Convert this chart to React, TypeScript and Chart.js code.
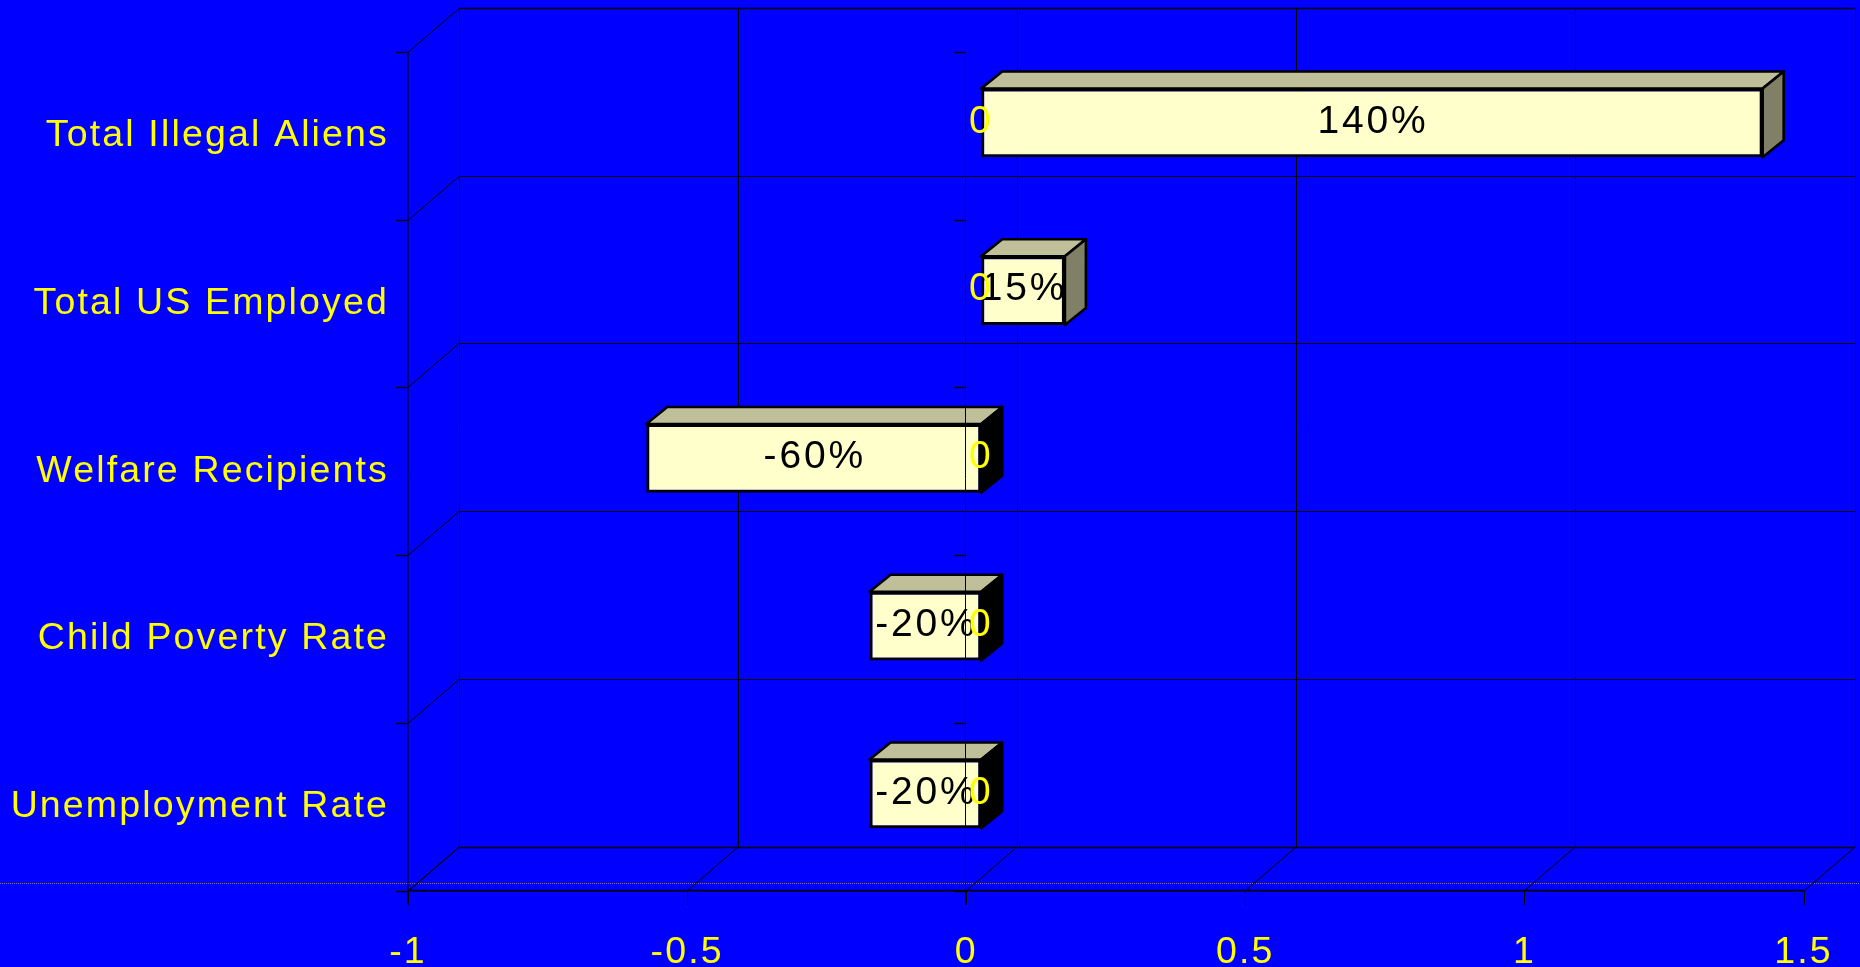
import React, { useEffect, useRef } from "react";
import { Chart, registerables } from "chart.js";

Chart.register(...registerables);

const categories = ["Total Illegal Aliens", "Total US Employed", "Welfare Recipients", "Child Poverty Rate", "Unemployment Rate"];
const changeValues = [1.4, 0.15, -0.6, -0.2, -0.2];
const changeLabels = ["140%", "15%", "-60%", "-20%", "-20%"];
const zeroValues = [0, 0, 0, 0, 0];
const xTicks = [-1, -0.5, 0, 0.5, 1, 1.5];

const FONT = "'Liberation Sans', Arial, sans-serif";
const FONT_SIZE = 37.5;
const LABEL_SIZE = 39;
const SPACING = "2.15px";
const LABEL_SPACING = "2.8px";
const WALL_DX = 51;
const WALL_DY = 44;
const BAR_DX = 15;
const BAR_DY = -13;
const BOX_DX = 21;
const BOX_DY = 17;

function line(ctx: CanvasRenderingContext2D, x1: number, y1: number, x2: number, y2: number, w = 1) {
  ctx.lineWidth = w;
  ctx.beginPath();
  ctx.moveTo(x1, y1);
  ctx.lineTo(x2, y2);
  ctx.stroke();
}

const frame3d = {
  id: "frame3d",
  beforeDraw(chart: any) {
    const ctx = chart.ctx;
    ctx.letterSpacing = SPACING;
    ctx.save();
    ctx.fillStyle = "#0000ff";
    ctx.fillRect(0, 0, chart.width, chart.height);
    ctx.strokeStyle = "#808080";
    ctx.setLineDash([1, 1]);
    line(ctx, 0, 883.5, chart.width, 883.5, 1);
    ctx.restore();
  },
  beforeDatasetsDraw(chart: any) {
    const { ctx, chartArea: a, scales } = chart;
    const x = scales.x;
    const y = scales.y;
    ctx.save();
    ctx.strokeStyle = "#000000";
    // back wall verticals and floor diagonals
    xTicks.forEach((t) => {
      const px = Math.round(x.getPixelForValue(t)) + 0.5;
      line(ctx, px + WALL_DX, a.top - WALL_DY, px + WALL_DX, a.bottom - WALL_DY);
      line(ctx, px, a.bottom, px + WALL_DX, a.bottom - WALL_DY);
      line(ctx, px, a.bottom, px, a.bottom + 14);
    });
    // back wall horizontals, left wall diagonals, ticks
    const zero = x.getPixelForValue(0);
    for (let i = 0; i <= categories.length; i++) {
      const py = Math.round(y.getPixelForValue(i - 0.5)) + 0.5;
      const isEdge = i === 0 || i === categories.length;
      line(ctx, a.left + WALL_DX, py - WALL_DY, a.right + WALL_DX, py - WALL_DY, isEdge ? 1.6 : 1.2);
      line(ctx, a.left, py, a.left + WALL_DX, py - WALL_DY);
      line(ctx, a.left - 12, py, a.left, py, 1.4);
      line(ctx, zero - 12, py, zero, py, 1.4);
    }
    line(ctx, a.left, a.bottom, a.right, a.bottom, 1.8);
    line(ctx, a.left, a.top, a.left, a.bottom + 14);
    ctx.restore();
    // 3D box faces, then the bars themselves are drawn shifted
    ctx.save();
    ctx.translate(BAR_DX, BAR_DY);
    chart.getDatasetMeta(0).data.forEach((bar: any, i: number) => {
      const left = Math.min(bar.x, bar.base);
      const right = Math.max(bar.x, bar.base);
      const top = bar.y - bar.height / 2;
      const bottom = bar.y + bar.height / 2;
      ctx.lineWidth = 2.6;
      ctx.lineJoin = "round";
      ctx.strokeStyle = "#000000";
      ctx.fillStyle = "#bfbf99";
      ctx.beginPath();
      ctx.moveTo(left, top);
      ctx.lineTo(left + BOX_DX, top - BOX_DY);
      ctx.lineTo(right + BOX_DX, top - BOX_DY);
      ctx.lineTo(right, top);
      ctx.closePath();
      ctx.fill();
      ctx.stroke();
      ctx.fillStyle = changeValues[i] >= 0 ? "#808066" : "#000000";
      ctx.beginPath();
      ctx.moveTo(right, top);
      ctx.lineTo(right + BOX_DX, top - BOX_DY);
      ctx.lineTo(right + BOX_DX, bottom - BOX_DY);
      ctx.lineTo(right, bottom);
      ctx.closePath();
      ctx.fill();
      ctx.stroke();
    });
  },
  afterDatasetsDraw(chart: any) {
    const { ctx, chartArea: a, scales } = chart;
    ctx.restore();
    ctx.save();
    ctx.strokeStyle = "#000000";
    const zeroPx = Math.round(scales.x.getPixelForValue(0)) - 0.5;
    line(ctx, zeroPx, a.top, zeroPx, a.bottom + 14);
    ctx.font = `${LABEL_SIZE}px ${FONT}`;
    ctx.letterSpacing = LABEL_SPACING;
    ctx.textAlign = "center";
    ctx.textBaseline = "middle";
    ctx.fillStyle = "#000000";
    chart.getDatasetMeta(0).data.forEach((bar: any, i: number) => {
      ctx.fillText(changeLabels[i], (bar.x + bar.base) / 2 + BAR_DX + 1, bar.y + BAR_DY - 1);
    });
    ctx.fillStyle = "#ffff00";
    chart.getDatasetMeta(1).data.forEach((bar: any, i: number) => {
      ctx.fillText(String(zeroValues[i]), bar.x + BAR_DX, chart.getDatasetMeta(0).data[i].y + BAR_DY - 1);
    });
    ctx.restore();
  },
};

export default function App() {
  const ref = useRef<HTMLCanvasElement | null>(null);
  useEffect(() => {
    document.body.style.margin = "0";
    document.body.style.background = "#0000ff";
    const chart = new Chart(ref.current as HTMLCanvasElement, {
      type: "bar",
      data: {
        labels: categories,
        datasets: [
          {
            label: "Change",
            data: changeValues,
            backgroundColor: "#ffffcc",
            borderColor: "#000000",
            borderWidth: 3,
            borderSkipped: false,
            grouped: false,
            barPercentage: 0.41,
            categoryPercentage: 1,
          },
          {
            label: "Baseline",
            data: zeroValues,
            backgroundColor: "rgba(0,0,0,0)",
            borderWidth: 0,
            grouped: false,
            barPercentage: 0.41,
            categoryPercentage: 1,
          },
        ],
      } as any,
      options: {
        indexAxis: "y",
        responsive: false,
        animation: false,
        devicePixelRatio: 1,
        layout: { padding: { top: 52, right: 56.5, left: 0, bottom: 0 } },
        plugins: { legend: { display: false }, tooltip: { enabled: false }, title: { display: false } },
        scales: {
          x: {
            type: "linear",
            min: -1,
            max: 1.5,
            afterFit: (s: any) => { s.height = 76.3; s.paddingLeft = 0; s.paddingRight = 0; },
            afterBuildTicks: (s: any) => { s.ticks = xTicks.map((value) => ({ value })); },
            grid: { display: false, drawTicks: false },
            border: { display: false },
            ticks: {
              color: "#ffff00",
              font: { family: FONT, size: FONT_SIZE },
              padding: 39,
              autoSkip: false,
              maxRotation: 0,
              callback: (v: any) => String(v),
            },
          },
          y: {
            type: "category",
            afterFit: (s: any) => { s.width = 408; s.paddingTop = 0; s.paddingBottom = 0; },
            grid: { display: false, drawTicks: false },
            border: { display: false },
            ticks: {
              color: "#ffff00",
              font: { family: FONT, size: FONT_SIZE },
              padding: 19,
              autoSkip: false,
            },
          },
        },
      } as any,
      plugins: [frame3d],
    });
    return () => chart.destroy();
  }, []);
  return (
    <div style={{ width: 1860, height: 967, overflow: "hidden" }}>
      <canvas ref={ref} width={1860} height={967} style={{ display: "block" }} />
    </div>
  );
}
